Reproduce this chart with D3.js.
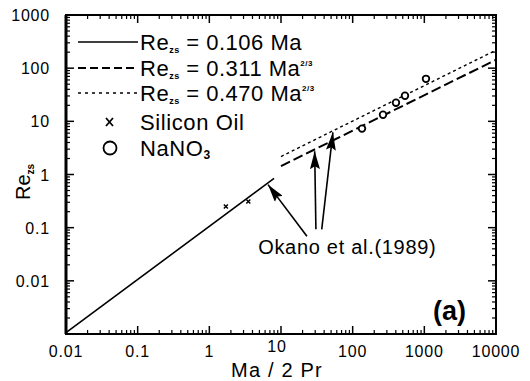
<!DOCTYPE html>
<html><head><meta charset="utf-8">
<script src="https://cdn.jsdelivr.net/npm/d3@7"></script>
<style>
body{margin:0;background:#fff;}
text{font-family:"Liberation Sans",Arial,Helvetica,sans-serif;fill:#000;}
</style></head>
<body><svg id="c" width="530" height="381"></svg>
<script>
// ---- data ----
const xTickValues = [0.01, 0.1, 1, 10, 100, 1000, 10000];
const xTickLabels = ["0.01", "0.1", "1", "10", "100", "1000", "10000"];
const yTickValues = [0.01, 0.1, 1, 10, 100, 1000];
const yTickLabels = ["0.01", "0.1", "1", "10", "100", "1000"];
// fit lines (straight on log-log): endpoints
const fitSolidX = [0.01, 8];      const fitSolidY = [0.00106, 0.848];   // Re = 0.106 Ma
const fitDashX  = [10, 10000];    const fitDashY  = [1.44, 144];        // Re = 0.311 Ma^2/3
const fitDotX   = [10, 10000];    const fitDotY   = [2.18, 218];        // Re = 0.470 Ma^2/3
// measurements
const siliconX = [1.7, 3.5];
const siliconY = [0.25, 0.31];
const nanoX = [135, 265, 402, 537, 1054];
const nanoY = [7.3, 13.3, 22.4, 30.3, 63];
// annotation arrows (tip / tail in data units)
const arrowTipX  = [6.6, 29.5, 53];
const arrowTipY  = [0.645, 2.75, 6.2];
const arrowTailX = [23, 30.7, 37];
const arrowTailY = [0.069, 0.093, 0.093];
const annoText = "Okano et al.(1989)";
const annoX = 4.8, annoY = 0.0315;

// ---- layout ----
const L = 66, R = 496, T = 15, B = 334;
const svg = d3.select("#c");
const x = d3.scaleLog().domain([0.01, 10000]).range([L, R]);
const y = d3.scaleLog().domain([0.001, 1000]).range([B, T]);

const minors = (dom) => {
  const out = [];
  for (let e = Math.log10(dom[0]); e < Math.log10(dom[1]); e++) {
    for (let k = 2; k <= 9; k++) out.push(k * Math.pow(10, e));
  }
  return out;
};
const xMajors = [0.01,0.1,1,10,100,1000,10000];
const yMajors = [0.001,0.01,0.1,1,10,100,1000];
const g = svg.append("g").attr("stroke", "#000");
xMajors.forEach(v => {
  g.append("line").attr("x1", x(v)).attr("x2", x(v)).attr("y1", B).attr("y2", B - 8).attr("stroke-width", 1.5);
  g.append("line").attr("x1", x(v)).attr("x2", x(v)).attr("y1", T).attr("y2", T + 8).attr("stroke-width", 1.5);
});
minors([0.01, 10000]).forEach(v => {
  g.append("line").attr("x1", x(v)).attr("x2", x(v)).attr("y1", B).attr("y2", B - 4).attr("stroke-width", 1.2);
  g.append("line").attr("x1", x(v)).attr("x2", x(v)).attr("y1", T).attr("y2", T + 4).attr("stroke-width", 1.2);
});
yMajors.forEach(v => {
  g.append("line").attr("y1", y(v)).attr("y2", y(v)).attr("x1", L).attr("x2", L + 8).attr("stroke-width", 1.5);
  g.append("line").attr("y1", y(v)).attr("y2", y(v)).attr("x1", R).attr("x2", R - 8).attr("stroke-width", 1.5);
});
minors([0.001, 1000]).forEach(v => {
  g.append("line").attr("y1", y(v)).attr("y2", y(v)).attr("x1", L).attr("x2", L + 4).attr("stroke-width", 1.2);
  g.append("line").attr("y1", y(v)).attr("y2", y(v)).attr("x1", R).attr("x2", R - 4).attr("stroke-width", 1.2);
});
svg.append("rect").attr("x", L).attr("y", T).attr("width", R - L).attr("height", B - T)
  .attr("fill", "none").attr("stroke", "#000").attr("stroke-width", 2);
svg.append("line").attr("x1", L).attr("x2", L).attr("y1", T).attr("y2", B).attr("stroke", "#000").attr("stroke-width", 3);

// tick labels
xTickValues.forEach((v, i) => {
  svg.append("text").attr("x", x(v) + (v === 10 ? -4 : 0)).attr("y", v === 10 ? 352 : 357)
    .attr("text-anchor", "middle").attr("font-size", 16).attr("letter-spacing", 0.8)
    .text(xTickLabels[i]);
});
yTickValues.forEach((v, i) => {
  svg.append("text").attr("x", 50).attr("y", y(v) + 6)
    .attr("text-anchor", "end").attr("font-size", 16).attr("letter-spacing", 0.8)
    .text(yTickLabels[i]);
});

// axis titles
svg.append("text").attr("x", 277).attr("y", 377).attr("text-anchor", "middle")
  .attr("font-size", 20).attr("letter-spacing", 1.2).text("Ma / 2 Pr");
const yt = svg.append("text").attr("transform", "translate(30,182) rotate(-90)")
  .attr("text-anchor", "middle").attr("font-size", 20);
yt.append("tspan").text("Re");
yt.append("tspan").attr("font-size", 10).attr("font-weight", "bold").attr("dy", 4).text("zs");

// fit lines
const line = d3.line().x(d => x(d[0])).y(d => y(d[1]));
svg.append("path").attr("d", line(d3.zip(fitSolidX, fitSolidY)))
  .attr("fill", "none").attr("stroke", "#000").attr("stroke-width", 1.6);
svg.append("path").attr("d", line(d3.zip(fitDashX, fitDashY)))
  .attr("fill", "none").attr("stroke", "#000").attr("stroke-width", 2).attr("stroke-dasharray", "10,4");
svg.append("path").attr("d", line(d3.zip(fitDotX, fitDotY)))
  .attr("fill", "none").attr("stroke", "#000").attr("stroke-width", 1.4).attr("stroke-dasharray", "3,3");

// silicon oil markers (x)
d3.zip(siliconX, siliconY).forEach(([a, b]) => {
  const cx = x(a), cy = y(b), s = 2;
  svg.append("path").attr("d", `M${cx-s},${cy-s}L${cx+s},${cy+s}M${cx-s},${cy+s}L${cx+s},${cy-s}`)
    .attr("stroke", "#000").attr("stroke-width", 1.5);
});
// NaNO3 circles
svg.selectAll("circle.na").data(d3.zip(nanoX, nanoY)).enter().append("circle")
  .attr("cx", d => x(d[0])).attr("cy", d => y(d[1])).attr("r", 3.3)
  .attr("fill", "#fff").attr("stroke", "#000").attr("stroke-width", 1.8);

// arrows
svg.append("defs").append("marker").attr("id", "ah").attr("viewBox", "0 0 18 10")
  .attr("refX", 18).attr("refY", 5).attr("markerWidth", 18).attr("markerHeight", 10)
  .attr("markerUnits", "userSpaceOnUse").attr("orient", "auto")
  .append("path").attr("d", "M0,0L18,5L0,10L3,5Z").attr("fill", "#000");
arrowTipX.forEach((v, i) => {
  svg.append("line").attr("x1", x(arrowTailX[i])).attr("y1", y(arrowTailY[i]))
    .attr("x2", x(v)).attr("y2", y(arrowTipY[i]))
    .attr("stroke", "#000").attr("stroke-width", 1.6).attr("marker-end", "url(#ah)");
});
svg.append("text").attr("x", x(annoX)).attr("y", y(annoY)).attr("font-size", 20)
  .attr("letter-spacing", 0.7).text(annoText);

// (a)
svg.append("text").attr("x", 433).attr("y", 320).attr("font-size", 27).attr("font-weight", "bold")
  .attr("font-family", "Liberation Serif, Times New Roman, serif").text("(a)");

// legend
const legY = [42, 68, 93];
const legDash = [null, "8,4", "3,4"];
const legW = [1.6, 2, 1.4];
const legCoef = ["0.106", "0.311", "0.470"];
const legPow = [false, true, true];
legY.forEach((ly, i) => {
  const l = svg.append("line").attr("x1", 78).attr("x2", 138).attr("y1", ly).attr("y2", ly)
    .attr("stroke", "#000").attr("stroke-width", legW[i]);
  if (legDash[i]) l.attr("stroke-dasharray", legDash[i]);
  const t = svg.append("text").attr("x", 140).attr("y", ly + 8).attr("font-size", 22).attr("letter-spacing", 0.5);
  t.append("tspan").text("Re");
  t.append("tspan").attr("font-size", 9).attr("font-weight", "bold").attr("dy", 3).text("zs");
  t.append("tspan").attr("dy", -3).text(" = " + legCoef[i] + " Ma");
  if (legPow[i]) t.append("tspan").attr("font-size", 8).attr("font-weight", "bold").attr("dy", -10).text("2/3");
});
// legend markers
svg.append("path").attr("d", "M106,118L113,126M106,126L113,118").attr("stroke", "#000").attr("stroke-width", 1.8);
svg.append("text").attr("x", 140).attr("y", 130).attr("font-size", 22).attr("letter-spacing", 0.6).text("Silicon Oil");
svg.append("circle").attr("cx", 110).attr("cy", 148).attr("r", 6.5).attr("fill", "none")
  .attr("stroke", "#000").attr("stroke-width", 1.8);
const nt = svg.append("text").attr("x", 140).attr("y", 156).attr("font-size", 22).attr("letter-spacing", 0.6);
nt.append("tspan").text("NaNO");
nt.append("tspan").attr("font-size", 12).attr("font-weight", "bold").attr("dy", 3).text("3");
</script></body></html>
